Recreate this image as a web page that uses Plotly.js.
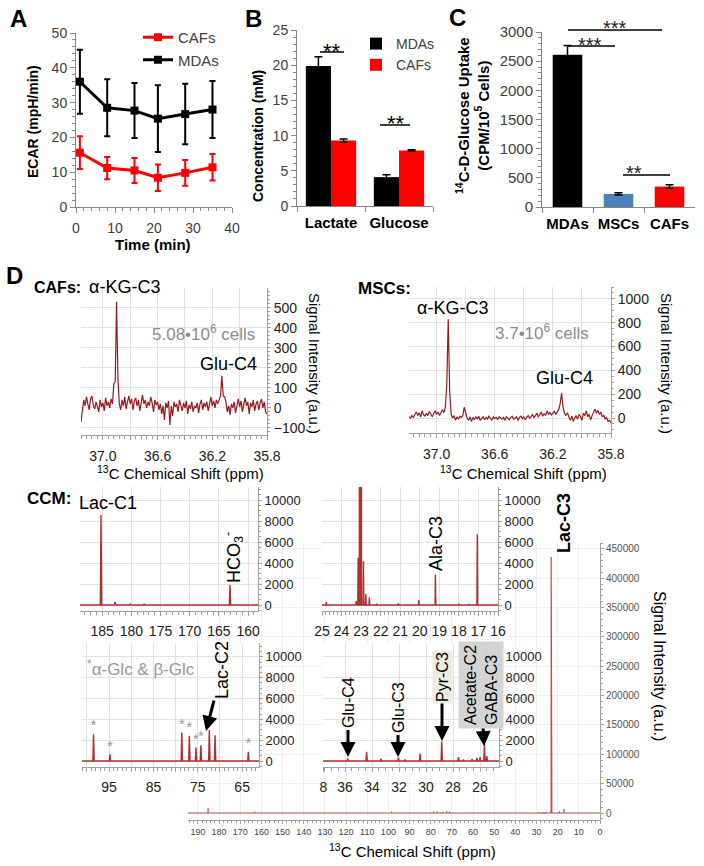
<!DOCTYPE html>
<html><head><meta charset="utf-8">
<script src="https://cdn.plot.ly/plotly-3.0.1.min.js"></script>
<style>html,body{margin:0;padding:0;background:#fff}#chart{width:704px;height:866px}</style>
</head><body><div id="chart"></div>
<script>
// ================= DATA =================
// Panel A: ECAR time course
const timeMin = [1, 8, 15, 21, 28, 35];
const ecarMDAs = [36.0, 28.5, 27.7, 25.4, 26.7, 28.0];
const ecarMDAsErr = [9.2, 8.2, 7.9, 9.6, 8.7, 8.2];
const ecarCAFs = [15.6, 11.2, 10.5, 8.4, 9.8, 11.4];
const ecarCAFsErr = [4.7, 3.2, 3.6, 3.8, 3.7, 3.8];

// Panel B: medium concentrations
const metabolites = ['Lactate', 'Glucose'];
const concMDAs = [19.9, 4.1];
const concMDAsErr = [1.3, 0.35];
const concCAFs = [9.3, 7.9];
const concCAFsErr = [0.2, 0.1];

// Panel C: 14C-D-glucose uptake
const cellLines = ['MDAs', 'MSCs', 'CAFs'];
const uptake = [2610, 225, 350];
const uptakeErr = [160, 20, 30];
const uptakeColors = ['#000000', '#4F81BD', '#FF0000'];

// Panel D: cell extract spectra (evenly sampled, ppm start and step)
const cafsShiftStart = 37.16, cafsShiftStep = -0.01;
const cafsSignal = [-70,-20,40,10,55,20,-10,45,60,15,
 -5,30,10,-20,40,5,25,-15,50,10,
 30,0,45,20,120,130,530,150,20,-10,
 40,10,55,-5,30,60,20,45,-10,35,
 50,10,40,-15,25,65,20,40,0,30,
 10,55,25,-20,40,15,30,-10,20,-30,
 10,-60,25,0,35,-85,10,-40,30,5,
 20,-20,40,10,-15,25,0,35,-30,15,
 -5,30,-20,10,0,25,-25,20,40,-10,
 25,5,30,-15,20,55,10,35,0,40,
 20,45,60,160,60,55,30,-20,10,-35,
 20,0,30,-25,15,45,5,35,-20,20,
 50,10,30,-30,25,5,40,-15,20,35,
 -10,25,45,0,30,-20,-30];
const mscsShiftStart = 37.19, mscsShiftStep = -0.01;
const mscsSignal = [10,0,20,5,30,50,20,45,10,60,
 30,15,40,20,55,25,10,35,60,30,
 50,20,40,70,45,90,280,830,220,30,
 0,20,-20,10,-10,15,5,20,90,40,
 0,-20,10,-30,5,-15,10,-5,15,-20,
 0,10,-15,5,-10,15,0,-20,10,-5,
 5,-15,10,0,-10,5,-20,10,0,-15,
 5,15,-10,0,10,-20,5,15,-5,10,
 -15,5,20,0,10,30,5,20,40,10,
 25,50,15,35,20,60,30,45,25,40,
 55,30,50,70,120,210,90,40,20,45,
 10,-20,15,-30,0,20,-10,30,10,-20,
 40,20,60,10,30,-15,20,50,75,40,
 65,30,50,10,25,-10,5,-30,-20,-40];

// CCM spectrum peaks (ppm, intensity)
const ccmCarboxylPPM = [185.2, 182.8, 180.2, 177.8, 163.1];
const ccmCarboxylInt = [8570, 300, 100, 120, 1900];
const ccmAliphaticPPM = [24.78, 23.25, 23.15, 23.07, 23.0, 22.88, 22.76, 22.58, 22.2, 21.1, 20.05, 19.2, 18.0, 17.5, 17.06];
const ccmAliphaticInt = [300, 400, 4500, 436000, 380000, 4170, 1070, 730, 130, 150, 470, 2900, 130, 100, 6730];
const ccmGlcPPM = [98.5, 94.8, 78.6, 76.9, 75.4, 74.3, 72.4, 63.6];
const ccmGlcInt = [2580, 650, 2740, 2420, 1290, 1520, 2970, 900];
const ccmLacC2PPM = [71.1];
const ccmLacC2Int = [2480];
const ccmMidPPM = [35.8, 34.4, 33.33, 32.05, 31.56, 30.44, 28.84, 27.6, 27.24, 26.6, 26.24, 26.0, 25.68, 25.5];
const ccmMidInt = [260, 900, 225, 320, 160, 710, 1870, 390, 160, 200, 300, 390, 1680, 480];

// ================= HELPERS =================
const FONT = 'Arial, "Liberation Sans", sans-serif';
const W = 704, H = 866;
const fx = v => v / W, fy = v => 1 - v / H;
const xd = (a, b) => [a / W, b / W];
const yd = (top, bot) => [1 - bot / H, 1 - top / H];

function stick(ppm, inten, w, range) {
  const pk = ppm.map((p, i) => [p, inten[i]]).sort((a, b) => b[0] - a[0]);
  const x = [range[0]], y = [0];
  pk.forEach(([p, h]) => { x.push(p + w, p, p - w); y.push(0, h, 0); });
  x.push(range[1]); y.push(0);
  return {x, y};
}

// axis ranges
const rBig = [194.7, 0], rTL = [188.8, 158.3], rTR = [25.0, 16.0], rBL = [101.1, 61.2], rBR = [37.63, 24.6];

const specColor = '#9a1b1e', ccmColor = '#b0302e', bigColor = '#c0504d';

const bigData = stick(
  [...ccmCarboxylPPM, ...ccmAliphaticPPM, ...ccmGlcPPM, ...ccmLacC2PPM, ...ccmMidPPM],
  [...ccmCarboxylInt, ...ccmAliphaticInt, ...ccmGlcInt, ...ccmLacC2Int, ...ccmMidInt], 0.03, rBig);
const tlData = stick(ccmCarboxylPPM, ccmCarboxylInt, 0.12, rTL);
const trData = stick(ccmAliphaticPPM, ccmAliphaticInt, 0.02, rTR);
const blData = stick([...ccmGlcPPM, ...ccmLacC2PPM], [...ccmGlcInt, ...ccmLacC2Int], 0.15, rBL);
const brData = stick(ccmMidPPM, ccmMidInt, 0.05, rBR);

const noHover = {hoverinfo: 'skip', showlegend: false};

const data = [
  Object.assign({type: 'scatter', mode: 'lines', x: bigData.x, y: bigData.y, xaxis: 'x', yaxis: 'y',
    line: {color: bigColor, width: 1.2}}, noHover),
  // A
  {type: 'scatter', mode: 'lines+markers', name: 'CAFs', x: timeMin, y: ecarCAFs, xaxis: 'x2', yaxis: 'y2',
    line: {color: '#FF0000', width: 3}, marker: {symbol: 'square', size: 8, color: '#FF0000'},
    error_y: {type: 'data', array: ecarCAFsErr, color: '#FF0000', thickness: 2, width: 3}, legend: 'legend'},
  {type: 'scatter', mode: 'lines+markers', name: 'MDAs', x: timeMin, y: ecarMDAs, xaxis: 'x2', yaxis: 'y2',
    line: {color: '#000000', width: 3}, marker: {symbol: 'square', size: 8, color: '#000000'},
    error_y: {type: 'data', array: ecarMDAsErr, color: '#000000', thickness: 2, width: 3}, legend: 'legend'},
  // B
  {type: 'bar', name: 'MDAs', x: metabolites, y: concMDAs, xaxis: 'x3', yaxis: 'y3', width: 0.37, offset: -0.37,
    marker: {color: '#000000'}, error_y: {type: 'data', array: concMDAsErr, color: '#000', thickness: 1.5, width: 4}, legend: 'legend2'},
  {type: 'bar', name: 'CAFs', x: metabolites, y: concCAFs, xaxis: 'x3', yaxis: 'y3', width: 0.37, offset: 0,
    marker: {color: '#FF0000'}, error_y: {type: 'data', array: concCAFsErr, color: '#000', thickness: 1.5, width: 4}, legend: 'legend2'},
  // C
  Object.assign({type: 'bar', x: cellLines, y: uptake, xaxis: 'x4', yaxis: 'y4', width: 0.58, offset: -0.29,
    marker: {color: uptakeColors}, error_y: {type: 'data', array: uptakeErr, color: '#000', thickness: 1.5, width: 4}}, noHover),
  // D top
  Object.assign({type: 'scatter', mode: 'lines', x0: cafsShiftStart, dx: cafsShiftStep, y: cafsSignal, xaxis: 'x5', yaxis: 'y5',
    line: {color: specColor, width: 1.2}}, noHover),
  Object.assign({type: 'scatter', mode: 'lines', x0: mscsShiftStart, dx: mscsShiftStep, y: mscsSignal, xaxis: 'x6', yaxis: 'y6',
    line: {color: specColor, width: 1.2}}, noHover),
  // CCM panels
  Object.assign({type: 'scatter', mode: 'lines', x: tlData.x, y: tlData.y, xaxis: 'x7', yaxis: 'y7', line: {color: ccmColor, width: 1.4}}, noHover),
  Object.assign({type: 'scatter', mode: 'lines', x: trData.x, y: trData.y, xaxis: 'x8', yaxis: 'y8', line: {color: ccmColor, width: 1.4}}, noHover),
  Object.assign({type: 'scatter', mode: 'lines', x: blData.x, y: blData.y, xaxis: 'x9', yaxis: 'y9', line: {color: ccmColor, width: 1.4}}, noHover),
  Object.assign({type: 'scatter', mode: 'text', x: ccmGlcPPM, y: ccmGlcInt, text: ccmGlcPPM.map(() => '*'), textposition: 'top center',
    textfont: {family: FONT, size: 15, color: '#999'}, cliponaxis: false, xaxis: 'x9', yaxis: 'y9'}, noHover),
  Object.assign({type: 'scatter', mode: 'lines', x: brData.x, y: brData.y, xaxis: 'x10', yaxis: 'y10', line: {color: ccmColor, width: 1.4}}, noHover)
];

// ================= AXES =================
const axCol = '#868686';
const excel = (o) => Object.assign({showline: true, linecolor: axCol, linewidth: 1, ticks: 'outside', ticklen: 5, tickcolor: axCol,
  showgrid: false, zeroline: false, fixedrange: true, tickfont: {family: FONT, size: 14, color: '#404040'}}, o);
const spec = (o) => Object.assign({showline: true, linecolor: '#a0a0a0', linewidth: 1, ticks: 'outside', ticklen: 4, tickcolor: '#a0a0a0',
  showgrid: true, gridcolor: '#e2e2e2', gridwidth: 1, zeroline: false, fixedrange: true, exponentformat: 'none', tickformat: 'd',
  tickfont: {family: FONT, size: 14, color: '#222'}}, o);
const mnr = (tick0, dtick, len) => ({tickmode: 'linear', tick0: tick0, dtick: dtick, ticks: 'outside', ticklen: len || 2, tickcolor: '#a0a0a0', showgrid: false});

const layout = {
  width: W, height: H, margin: {l: 0, r: 0, t: 0, b: 0},
  paper_bgcolor: '#fff', plot_bgcolor: '#fff',
  font: {family: FONT, color: '#000'},
  showlegend: true,
  legend: {x: fx(138), y: fy(21), xanchor: 'left', yanchor: 'top', bgcolor: 'rgba(0,0,0,0)',
    font: {family: FONT, size: 15, color: '#404040'}, itemwidth: 30, tracegroupgap: 0},
  legend2: {x: fx(356), y: fy(28), xanchor: 'left', yanchor: 'top', bgcolor: 'rgba(0,0,0,0)',
    font: {family: FONT, size: 14, color: '#404040'}, itemwidth: 30, tracegroupgap: 0},
  // big CCM panel
  xaxis: spec({domain: xd(188, 600), range: rBig, anchor: 'y', tickmode: 'linear', tick0: 0, dtick: 10, ticklen: 3,
    gridcolor: '#efefef', tickfont: {family: FONT, size: 9, color: '#444'}, minor: mnr(0, 2, 2)}),
  yaxis: spec({domain: yd(543, 820), range: [-11900, 460000], anchor: 'x', side: 'right', tickmode: 'linear', tick0: 0, dtick: 50000,
    ticklen: 3, gridcolor: '#efefef', tickfont: {family: FONT, size: 10, color: '#555'}, minor: mnr(0, 10000, 2)}),
  // A
  xaxis2: excel({domain: xd(76, 232), range: [0, 40], anchor: 'y2', dtick: 10, ticklabelstandoff: 3, minor: {dtick: 2, ticks: 'outside', ticklen: 3, tickcolor: axCol}}),
  yaxis2: excel({domain: yd(33, 207), range: [0, 50], anchor: 'x2', dtick: 10, minor: {dtick: 2, ticks: 'outside', ticklen: 3, tickcolor: axCol}}),
  // B
  xaxis3: excel({domain: xd(297, 433), type: 'category', range: [-0.5, 1.5], anchor: 'y3', tickson: 'boundaries', ticklabelstandoff: 3, tickangle: 0,
    tickfont: {family: FONT, size: 15, color: '#000', weight: 'bold'}}),
  yaxis3: excel({domain: yd(30, 206), range: [0, 25], anchor: 'x3', dtick: 5, minor: {dtick: 1, ticks: 'outside', ticklen: 3, tickcolor: axCol}}),
  // C
  xaxis4: excel({domain: xd(542, 695), type: 'category', range: [-0.5, 2.5], anchor: 'y4', tickson: 'boundaries', ticklabelstandoff: 3, tickangle: 0,
    tickfont: {family: FONT, size: 15, color: '#000', weight: 'bold'}}),
  yaxis4: excel({domain: yd(32, 207), range: [0, 3000], anchor: 'x4', dtick: 500, tickfont: {family: FONT, size: 15, color: '#404040'},
    minor: {dtick: 100, ticks: 'outside', ticklen: 3, tickcolor: axCol}}),
  // D CAFs
  xaxis5: spec({domain: xd(81, 267), range: [cafsShiftStart, 35.8], anchor: 'y5', tickmode: 'array', tickformat: '',
    tickvals: [37.0, 36.8, 36.6, 36.4, 36.2, 36.0, 35.8], ticktext: ['37.0', '', '36.6', '', '36.2', '', '35.8'],
    ticklabelstandoff: 4, minor: mnr(35.8, 0.04, 3)}),
  yaxis5: spec({domain: yd(288, 435), range: [-135, 598], anchor: 'x5', side: 'right', tickmode: 'linear', tick0: 0, dtick: 100,
    ticklen: 3, minor: mnr(0, 20, 2)}),
  // D MSCs
  xaxis6: spec({domain: xd(409, 611), range: [mscsShiftStart, 35.8], anchor: 'y6', tickmode: 'array', tickformat: '',
    tickvals: [37.0, 36.8, 36.6, 36.4, 36.2, 36.0, 35.8], ticktext: ['37.0', '', '36.6', '', '36.2', '', '35.8'],
    ticklabelstandoff: 4, minor: mnr(35.8, 0.04, 3)}),
  yaxis6: spec({domain: yd(287, 433), range: [-126, 1100], anchor: 'x6', side: 'right', tickmode: 'linear', tick0: 0, dtick: 200,
    ticklen: 3, minor: mnr(0, 50, 2)}),
  // CCM TL
  xaxis7: spec({domain: xd(80, 258), range: rTL, anchor: 'y7', tickmode: 'linear', tick0: 160, dtick: 5, ticklabelstandoff: 3, minor: mnr(160, 1, 3)}),
  yaxis7: spec({domain: yd(487, 611), range: [-570, 11240], anchor: 'x7', side: 'right', tickmode: 'linear', tick0: 0, dtick: 2000,
    ticklen: 3, tickfont: {family: FONT, size: 13, color: '#222'}, minor: mnr(0, 500, 2)}),
  // CCM TR
  xaxis8: spec({domain: xd(322, 498), range: rTR, anchor: 'y8', tickmode: 'linear', tick0: 16, dtick: 1, ticklabelstandoff: 3, minor: mnr(16, 0.2, 3)}),
  yaxis8: spec({domain: yd(487, 611), range: [-570, 11240], anchor: 'x8', side: 'right', tickmode: 'linear', tick0: 0, dtick: 2000,
    ticklen: 3, tickfont: {family: FONT, size: 13, color: '#222'}, minor: mnr(0, 500, 2)}),
  // CCM BL
  xaxis9: spec({domain: xd(82, 259), range: rBL, anchor: 'y9', tickmode: 'array', tickformat: '',
    tickvals: [100, 95, 90, 85, 80, 75, 70, 65], ticktext: ['', '95', '', '85', '', '75', '', '65'], ticklabelstandoff: 3, minor: mnr(61, 1, 3)}),
  yaxis9: spec({domain: yd(643, 767), range: [-570, 11330], anchor: 'x9', side: 'right', tickmode: 'linear', tick0: 0, dtick: 2000,
    ticklen: 3, tickfont: {family: FONT, size: 13, color: '#222'}, minor: mnr(0, 500, 2)}),
  // CCM BR
  xaxis10: spec({domain: xd(323, 499), range: rBR, anchor: 'y10', tickmode: 'array', tickformat: '',
    tickvals: [37.6, 36, 34, 32, 30, 28, 26], ticktext: ['8', '36', '34', '32', '30', '28', '26'], ticklabelstandoff: 3, minor: mnr(25, 0.5, 3)}),
  yaxis10: spec({domain: yd(643, 767), range: [-570, 11330], anchor: 'x10', side: 'right', tickmode: 'linear', tick0: 0, dtick: 2000,
    ticklen: 3, tickfont: {family: FONT, size: 13, color: '#222'}, minor: mnr(0, 500, 2)}),
  shapes: [],
  annotations: []
};

// ================= SIGNIFICANCE BARS =================
function hline(x0, x1, y) {
  return {type: 'line', xref: 'paper', yref: 'paper', x0: fx(x0), x1: fx(x1), y0: fy(y), y1: fy(y), line: {color: '#000', width: 1.5}};
}
layout.shapes.push(hline(320, 344, 52), hline(380, 410, 125), hline(568, 662, 30), hline(568, 615, 46), hline(623, 670, 175));

// ================= TEXT =================
function label(text, x, y, size, o) {
  o = o || {};
  return Object.assign({text: text, x: fx(x), y: fy(y), xref: 'paper', yref: 'paper', showarrow: false,
    xanchor: o.xanchor || 'center', yanchor: 'middle',
    font: {family: FONT, size: size, color: o.color || '#000'}, textangle: o.angle || 0}, o.extra || {});
}
function pointer(text, tipX, tipY, textX, textY, size, extra) {
  return Object.assign({text: text, xref: 'paper', yref: 'paper', x: fx(tipX), y: fy(tipY),
    ax: textX - tipX, ay: textY - tipY, showarrow: true, arrowhead: 2, arrowsize: 1, arrowwidth: 3, arrowcolor: '#000',
    textangle: -90, font: {family: FONT, size: size, color: '#000'}}, extra || {});
}
const A = layout.annotations;
// panel letters
A.push(label('<b>A</b>', 18, 19, 24), label('<b>B</b>', 253, 19, 24), label('<b>C</b>', 457, 17, 24), label('<b>D</b>', 14, 276, 24));
// axis titles A-C
A.push(label('<b>ECAR (mpH/min)</b>', 33, 122, 14, {angle: -90}));
A.push(label('<b>Time (min)</b>', 153, 245, 15));
A.push(label('<b>Concentration (mM)</b>', 258, 136, 14, {angle: -90}));
A.push(label('<b><sup>14</sup>C-D-Glucose Uptake</b><br><b>(CPM/10<sup>5</sup> Cells)</b>', 472, 116, 15, {angle: -90}));
// stars
A.push(label('**', 332, 51, 22), label('**', 396, 124, 22));
A.push(label('***', 615, 28, 20, {color: '#222'}), label('***', 590, 45, 20, {color: '#222'}), label('**', 634, 173, 20, {color: '#222'}));
// D top
A.push(label('<b>CAFs:</b>', 32, 287, 16, {xanchor: 'left'}), label('α-KG-C3', 87, 287, 18, {xanchor: 'left'}));
A.push(label('<b>MSCs:</b>', 356, 288, 17, {xanchor: 'left'}), label('α-KG-C3', 452, 308, 18));
A.push(label('5.08•10<sup>6</sup> cells', 203, 333, 17, {color: '#8c8c8c'}), label('3.7•10<sup>6</sup> cells', 542, 332, 17, {color: '#8c8c8c'}));
A.push(label('Glu-C4', 228, 364, 18), label('Glu-C4', 564, 378, 18));
A.push(label('<sup>13</sup>C Chemical Shift (ppm)', 180, 472, 15), label('<sup>13</sup>C Chemical Shift (ppm)', 523, 472, 15));
A.push(label('Signal Intensity (a.u.)', 314, 363, 15, {angle: 90}), label('Signal Intensity (a.u.)', 666, 363, 15, {angle: 90}));
// CCM
A.push(label('<b>CCM:</b>', 25, 498, 17, {xanchor: 'left'}), label('Lac-C1', 108, 503, 18));
A.push(label('HCO<sub>3</sub><sup>-</sup>', 233, 558, 18, {angle: -90}));
A.push(label('Ala-C3', 436, 543, 18, {angle: -90}));
A.push(label('<b>Lac-C3</b>', 564, 523, 18, {angle: -90}));
A.push(label('<sup>*</sup>α-Glc &amp; β-Glc', 141, 668, 17, {color: '#999'}));
A.push(pointer('Lac-C2', 206, 731, 222, 670, 18));
A.push(pointer('Glu-C4', 348, 757, 348, 703, 16));
A.push(pointer('Glu-C3', 398, 757, 398, 708, 16));
A.push(pointer('Pyr-C3', 442, 741, 442, 677, 16, {bgcolor: '#ececdf', borderpad: 1}));
A.push(pointer('Acetate-C2<br>GABA-C3', 484, 746, 481, 685, 16, {bgcolor: '#d4d4d4', borderpad: 3, align: 'left'}));
A.push(label('<sup>13</sup>C Chemical Shift (ppm)', 412, 850, 15));
A.push(label('Signal Intensity (a.u.)', 660, 666, 16, {angle: 90}));

Plotly.newPlot('chart', data, layout, {staticPlot: true, displayModeBar: false});
</script>
</body></html>
